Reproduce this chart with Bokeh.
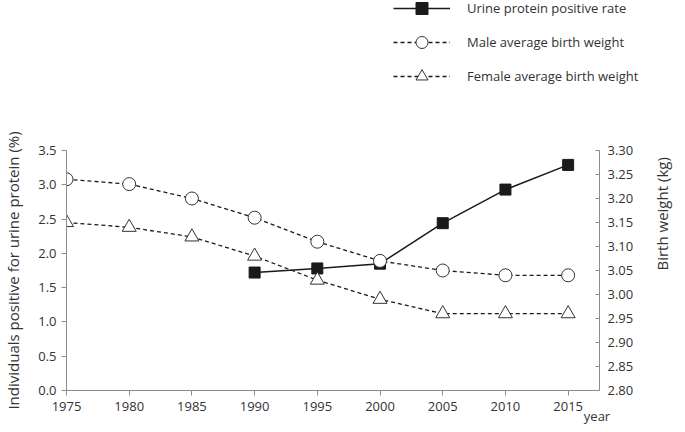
import math
from bokeh.plotting import figure
from bokeh.layouts import column, row
from bokeh.models import (LinearAxis, Range1d, FixedTicker, Legend, LegendItem,
                          NumeralTickFormatter)
from bokeh.embed import file_html
from bokeh.resources import INLINE

years = [1975, 1980, 1985, 1990, 1995, 2000, 2005, 2010, 2015]
urine_years = [1990, 1995, 2000, 2005, 2010, 2015]
urine_rate = [1.72, 1.78, 1.85, 2.44, 2.93, 3.29]
male_weight = [3.24, 3.23, 3.20, 3.16, 3.11, 3.07, 3.05, 3.04, 3.04]
female_weight = [3.15, 3.14, 3.12, 3.08, 3.03, 2.99, 2.96, 2.96, 2.96]
left_ticks = [0.0, 0.5, 1.0, 1.5, 2.0, 2.5, 3.0, 3.5]
right_ticks = [2.80, 2.85, 2.90, 2.95, 3.00, 3.05, 3.10, 3.15, 3.20, 3.25, 3.30]
series_names = ["Urine protein positive rate", "Male average birth weight",
                "Female average birth weight"]
year_label_pos = 2017.3

FONT = "Open Sans"
AX = "#8c8c8c"
TXT = "#333333"
INK = "#1a1a1a"

# ---------------- legend strip (top) ----------------
# the same series are drawn here, but outside this strip's visible range,
# only so that the legend can show their line/marker styles
leg = figure(width=685, height=96, output_backend="svg", toolbar_location=None,
             x_range=Range1d(0, 1), y_range=Range1d(0, 1),
             x_axis_location=None, y_axis_location=None,
             min_border_left=0, min_border_right=0, min_border_top=0,
             min_border_bottom=0)
leg.outline_line_color = None
leg.grid.visible = False
e1l = leg.line(urine_years, urine_rate, line_color=INK, line_width=1.5)
e1s = leg.scatter(urine_years, urine_rate, marker="square", size=13,
                  fill_color=INK, line_color=INK)
e2l = leg.line(years, male_weight, line_color=INK, line_width=1.3, line_dash="4 3")
e2s = leg.scatter(years, male_weight, marker="circle", size=15, fill_color="white",
                  line_color="#333333", line_width=1)
e3l = leg.line(years, female_weight, line_color=INK, line_width=1.3, line_dash="4 3")
e3s = leg.scatter(years, female_weight, marker="triangle", size=16,
                  fill_color="white", line_color="#333333", line_width=1)
legend = Legend(items=[
    LegendItem(label=series_names[0], renderers=[e1l, e1s]),
    LegendItem(label=series_names[1], renderers=[e2l, e2s]),
    LegendItem(label=series_names[2], renderers=[e3l, e3s]),
], location=(393, 5), orientation="vertical")
legend.background_fill_alpha = 0
legend.border_line_color = None
legend.glyph_width = 57
legend.glyph_height = 30
legend.label_height = 30
legend.label_text_font = FONT
legend.label_text_font_size = "13px"
legend.label_text_color = TXT
legend.spacing = 4
legend.label_standoff = 17
legend.padding = 0
legend.margin = 0
leg.add_layout(legend, "center")

# ---------------- main chart ----------------
p = figure(width=685, height=336, output_backend="svg", toolbar_location=None,
           x_range=Range1d(1975, 2017.5), y_range=Range1d(0, 3.5),
           min_border_left=66, min_border_right=86, min_border_top=54,
           min_border_bottom=42)
p.outline_line_color = None
p.grid.visible = False
p.extra_y_ranges = {"bw": Range1d(2.80, 3.30)}

xa = p.xaxis[0]
xa.ticker = FixedTicker(ticks=years)
xa.axis_line_color = AX
xa.major_tick_line_color = AX
xa.major_tick_out = 5
xa.major_tick_in = 0
xa.minor_tick_line_color = None
xa.major_label_text_font = FONT
xa.major_label_text_font_size = "13px"
xa.major_label_text_color = TXT
xa.major_label_standoff = 6

yl = LinearAxis(ticker=FixedTicker(ticks=[year_label_pos]),
                major_label_overrides={year_label_pos: "year"})
yl.axis_line_color = None
yl.major_tick_line_color = None
yl.minor_tick_line_color = None
yl.major_label_text_font = FONT
yl.major_label_text_font_size = "13px"
yl.major_label_text_color = TXT
yl.major_label_standoff = -13
p.add_layout(yl, "below")

ya = p.yaxis[0]
ya.ticker = FixedTicker(ticks=left_ticks)
ya.formatter = NumeralTickFormatter(format="0.0")
ya.axis_line_color = AX
ya.major_tick_line_color = AX
ya.major_tick_out = 5
ya.major_tick_in = 0
ya.minor_tick_line_color = None
ya.major_label_text_font = FONT
ya.major_label_text_font_size = "13px"
ya.major_label_text_color = TXT
ya.axis_label = "Individuals positive for urine protein (%)"
ya.axis_label_text_font = FONT
ya.axis_label_text_font_size = "15px"
ya.axis_label_text_font_style = "normal"
ya.axis_label_text_color = TXT
ya.axis_label_standoff = 12

ra = LinearAxis(y_range_name="bw", ticker=FixedTicker(ticks=right_ticks),
                formatter=NumeralTickFormatter(format="0.00"))
ra.axis_line_color = AX
ra.major_tick_line_color = AX
ra.major_tick_out = 0
ra.major_tick_in = 4
ra.minor_tick_line_color = None
ra.major_label_text_font = FONT
ra.major_label_text_font_size = "13px"
ra.major_label_text_color = TXT
ra.major_label_standoff = 8
ra.axis_label = "Birth weight (kg)"
ra.axis_label_orientation = math.pi / 2
ra.axis_label_text_font = FONT
ra.axis_label_text_font_size = "15px"
ra.axis_label_text_font_style = "normal"
ra.axis_label_text_color = TXT
ra.axis_label_standoff = 26
p.add_layout(ra, "right")

p.line(urine_years, urine_rate, line_color=INK, line_width=1.5)
p.scatter(urine_years, urine_rate, marker="square", size=11,
          fill_color=INK, line_color=INK)
p.line(years, male_weight, y_range_name="bw", line_color=INK,
       line_width=1.3, line_dash="4 3")
p.scatter(years, male_weight, y_range_name="bw", marker="circle", size=13,
          fill_color="white", line_color="#333333", line_width=1)
p.line(years, female_weight, y_range_name="bw", line_color=INK,
       line_width=1.3, line_dash="4 3")
p.scatter(years, female_weight, y_range_name="bw", marker="triangle", size=14,
          fill_color="white", line_color="#333333", line_width=1)

layout = column(row(leg), p, spacing=0)
open("out.html", "w").write(file_html(layout, INLINE))
